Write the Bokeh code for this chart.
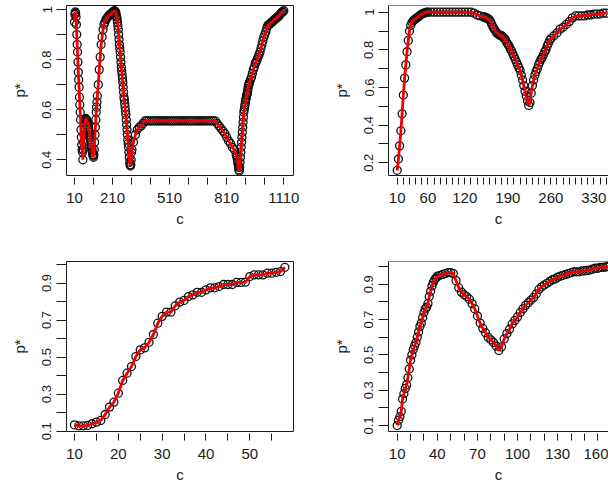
from bokeh.plotting import figure
from bokeh.layouts import column, row
from bokeh.models import Range1d, FixedTicker, Span
from bokeh.embed import file_html
from bokeh.resources import INLINE

# ---------------- data ----------------
# panel 1 (top-left): c sampled more finely where the curve is steep
c1 = (list(range(10, 131, 2)) + list(range(135, 226, 5)) + list(range(226, 313, 2))
      + list(range(320, 861, 10)) + list(range(862, 931, 2)) + list(range(935, 1111, 5)))
p1 = [0.95, 0.98, 0.99, 0.985, 0.97, 0.94, 0.90, 0.86, 0.83, 0.79,
      0.75, 0.72, 0.69, 0.65, 0.62, 0.59, 0.56, 0.52, 0.49, 0.46,
      0.44, 0.43, 0.40, 0.44, 0.47, 0.50, 0.52, 0.54, 0.55, 0.56,
      0.565, 0.56, 0.56, 0.555, 0.55, 0.55, 0.54, 0.53, 0.52, 0.51,
      0.50, 0.49, 0.48, 0.47, 0.46, 0.45, 0.44, 0.43, 0.42, 0.415,
      0.41, 0.42, 0.44, 0.47, 0.50, 0.53, 0.56, 0.59, 0.61, 0.63,
      0.655,
      0.70, 0.76, 0.81, 0.86, 0.89, 0.92, 0.94, 0.95, 0.96, 0.965,
      0.97, 0.975, 0.98, 0.98, 0.985, 0.99, 0.99, 0.995, 0.99,
      0.99, 0.985, 0.975, 0.97, 0.96, 0.95, 0.935, 0.92, 0.90, 0.88,
      0.86, 0.845, 0.83, 0.81, 0.79, 0.77, 0.755, 0.74, 0.725, 0.71,
      0.69, 0.67, 0.65, 0.64, 0.625, 0.61, 0.595, 0.58, 0.56, 0.54,
      0.52, 0.50, 0.48, 0.465, 0.45, 0.43, 0.41, 0.39, 0.38, 0.375,
      0.38, 0.40, 0.43, 0.44,
      0.47, 0.50, 0.52, 0.53, 0.535, 0.545, 0.555,
      0.555, 0.555, 0.555, 0.555, 0.555, 0.555, 0.555, 0.555, 0.555, 0.555,
      0.555, 0.555, 0.555, 0.555, 0.555, 0.555, 0.555, 0.555, 0.555, 0.555,
      0.555, 0.555, 0.555, 0.555, 0.555, 0.555, 0.555, 0.555, 0.555, 0.555,
      0.555, 0.555, 0.555, 0.555, 0.555, 0.555, 0.555,
      0.545, 0.535, 0.525, 0.515, 0.505, 0.49, 0.475, 0.465, 0.45, 0.44,
      0.42,
      0.415, 0.41, 0.40, 0.39, 0.38, 0.37, 0.36, 0.355, 0.37, 0.39,
      0.41, 0.43, 0.45, 0.47, 0.49, 0.51, 0.53, 0.55, 0.57, 0.59,
      0.60, 0.61, 0.62, 0.63, 0.64, 0.645, 0.655, 0.66, 0.665, 0.675,
      0.685, 0.695, 0.70, 0.705, 0.71,
      0.72, 0.73, 0.745, 0.76, 0.77, 0.785, 0.79, 0.80, 0.81, 0.82,
      0.83, 0.845, 0.86, 0.875, 0.89, 0.90, 0.91, 0.925, 0.935, 0.94,
      0.94, 0.945, 0.95, 0.95, 0.955, 0.96, 0.96, 0.965, 0.97, 0.97,
      0.975, 0.98, 0.985, 0.99, 0.99, 0.995]

# panel 2 (top-right)
c2 = (list(range(10, 59, 2)) + list(range(60, 146, 5)) + list(range(150, 261, 2))
      + list(range(265, 351, 5)))
p2 = [0.16, 0.22, 0.29, 0.37, 0.46, 0.56, 0.65, 0.72, 0.79, 0.85,
      0.90, 0.93, 0.945, 0.955, 0.96, 0.965, 0.97, 0.975, 0.98, 0.985,
      0.99, 0.993, 0.995, 0.998, 1.0,
      1.0, 1.0, 1.0, 1.0, 1.0, 1.0, 1.0, 1.0, 1.0, 1.0,
      1.0, 1.0, 1.0, 1.0, 1.0, 0.995, 0.985, 0.98,
      0.975, 0.975, 0.97, 0.97, 0.965, 0.96, 0.95, 0.935, 0.92, 0.91,
      0.90, 0.89, 0.885, 0.88, 0.875, 0.875, 0.87, 0.86, 0.855, 0.84,
      0.83, 0.82, 0.805, 0.795, 0.78, 0.765, 0.75, 0.735, 0.72, 0.705,
      0.69, 0.665, 0.64, 0.61, 0.58, 0.555, 0.53, 0.505, 0.52, 0.57,
      0.61, 0.64, 0.665, 0.685, 0.70, 0.72, 0.735, 0.75, 0.76, 0.775,
      0.79, 0.80, 0.82, 0.835, 0.85, 0.86,
      0.875, 0.89, 0.91, 0.92, 0.935, 0.95, 0.97, 0.98, 0.98, 0.98,
      0.98, 0.985, 0.985, 0.99, 0.99, 0.99, 0.995, 0.995]

# panel 3 (bottom-left)
c3 = list(range(10, 59))
p3 = [0.134, 0.129, 0.129, 0.131, 0.14, 0.149, 0.158, 0.19, 0.23, 0.257,
      0.305, 0.374, 0.413, 0.449, 0.503, 0.539, 0.55, 0.58, 0.622, 0.683,
      0.72, 0.743, 0.743, 0.777, 0.797, 0.806, 0.827, 0.836, 0.85, 0.85,
      0.863, 0.874, 0.874, 0.881, 0.892, 0.892, 0.892, 0.903, 0.903, 0.905,
      0.935, 0.944, 0.944, 0.944, 0.953, 0.953, 0.958, 0.962, 0.985]

# panel 4 (bottom-right)
c4 = list(range(10, 41)) + list(range(42, 169, 2))
p4 = [0.10, 0.13, 0.15, 0.18, 0.25, 0.28, 0.31, 0.33, 0.37, 0.42,
      0.47, 0.50, 0.53, 0.55, 0.57, 0.60, 0.63, 0.66, 0.68, 0.71,
      0.74, 0.76, 0.77, 0.79, 0.83, 0.86, 0.89, 0.91, 0.925, 0.935,
      0.945,
      0.95, 0.955, 0.96, 0.965, 0.965, 0.96, 0.92, 0.88, 0.855, 0.84,
      0.83, 0.815, 0.79, 0.76, 0.72, 0.68, 0.65, 0.625, 0.60, 0.585,
      0.57, 0.55, 0.525, 0.545, 0.59, 0.62, 0.645, 0.675, 0.695, 0.715,
      0.74, 0.76, 0.78, 0.795, 0.81, 0.825, 0.845, 0.87, 0.885, 0.895,
      0.905, 0.915, 0.925, 0.93, 0.94, 0.945, 0.95, 0.955, 0.96, 0.965,
      0.97, 0.97, 0.97, 0.975, 0.975, 0.978, 0.98, 0.985, 0.99, 0.99,
      0.995, 0.995, 0.998, 1.0]

# ticks and tick labels
x1_ticks = list(range(10, 1111, 100))
x1_labels = [10, 210, 510, 810, 1110]
x2_ticks = list(range(10, 351, 10))
x2_labels = [10, 60, 120, 190, 260, 330]
x3_ticks = list(range(10, 56, 5))
x3_labels = [10, 20, 30, 40, 50]
x4_ticks = list(range(10, 171, 10))
x4_labels = [10, 40, 70, 100, 130, 160]

y1_ticks = [0.4, 0.5, 0.6, 0.7, 0.8, 0.9, 1.0]
y1_labels = {0.4: "0.4", 0.6: "0.6", 0.8: "0.8", 1.0: "1"}
y2_ticks = [0.2, 0.3, 0.4, 0.5, 0.6, 0.7, 0.8, 0.9, 1.0]
y2_labels = {0.2: "0.2", 0.4: "0.4", 0.6: "0.6", 0.8: "0.8", 1.0: "1"}
y3_ticks = [0.1, 0.2, 0.3, 0.4, 0.5, 0.6, 0.7, 0.8, 0.9, 1.0]
y3_labels = {0.1: "0.1", 0.3: "0.3", 0.5: "0.5", 0.7: "0.7", 0.9: "0.9"}
y4_ticks = y3_ticks
y4_labels = y3_labels

assert len(c1) == len(p1), (len(c1), len(p1))
assert len(c2) == len(p2), (len(c2), len(p2))
assert len(c3) == len(p3), (len(c3), len(p3))
assert len(c4) == len(p4), (len(c4), len(p4))

FONT = "Liberation Sans"
INK = "#1a1a1a"


def rng(frame_start, frame_len, ref_val, ref_px, px_per_unit, invert=False):
    """Range so that ref_val sits at page pixel ref_px for a frame starting at frame_start."""
    if not invert:
        lo = ref_val - (ref_px - frame_start) / px_per_unit
        return lo, lo + frame_len / px_per_unit
    hi = ref_val + (ref_px - frame_start) / px_per_unit
    return hi - frame_len / px_per_unit, hi


def panel(c, p, xr, yr, xt, xl, yt, yl, width, height, bl, br, bt, bb, open_right):
    f = figure(width=width, height=height, x_range=Range1d(*xr), y_range=Range1d(*yr),
               output_backend="svg", toolbar_location=None, tools="",
               min_border_left=bl, min_border_right=br, min_border_top=bt, min_border_bottom=bb,
               background_fill_color="white", border_fill_color="white")
    f.grid.visible = False
    f.scatter(c, p, marker="circle", size=8, fill_color=None, line_color="#111111", line_width=1.3)
    f.line(c, p, line_color="#ee0000", line_width=2.8)

    xa = f.xaxis[0]
    xa.ticker = FixedTicker(ticks=xt)
    xa.major_label_overrides = {t: (str(t) if t in xl else "") for t in xt}
    xa.minor_tick_line_color = None
    xa.major_tick_in = -2
    xa.major_tick_out = 9
    xa.major_tick_line_color = INK
    xa.major_label_text_font = FONT
    xa.major_label_text_font_size = "15px"
    xa.major_label_text_color = INK
    xa.major_label_standoff = 8
    xa.axis_label = "c"
    xa.axis_label_text_font = FONT
    xa.axis_label_text_font_size = "15px"
    xa.axis_label_text_font_style = "normal"
    xa.axis_label_text_color = INK
    xa.axis_label_standoff = 4

    ya = f.yaxis[0]
    ya.ticker = FixedTicker(ticks=yt)
    ya.major_label_overrides = {t: yl.get(t, "") for t in yt}
    ya.minor_tick_line_color = None
    ya.major_tick_in = 0
    ya.major_tick_out = 10
    ya.major_tick_line_color = INK
    ya.major_label_orientation = "vertical"
    ya.major_label_text_font = FONT
    ya.major_label_text_font_size = "13px"
    ya.major_label_text_color = INK
    ya.major_label_standoff = 5
    ya.axis_label = "p*"
    ya.axis_label_text_font = FONT
    ya.axis_label_text_font_size = "15px"
    ya.axis_label_text_font_style = "normal"
    ya.axis_label_text_color = INK
    ya.axis_label_standoff = 12

    if open_right:
        f.outline_line_color = None
        xa.axis_line_color = INK
        ya.axis_line_color = INK
        f.add_layout(Span(location=yr[1], dimension="width", line_color=INK, line_width=1))
    else:
        f.outline_line_color = INK
        f.outline_line_width = 1
        f.outline_line_alpha = 1
        xa.axis_line_color = None
        ya.axis_line_color = None
    return f


# layout geometry in page pixels (page has no margin)
ROW_H = 243
L_W, R_W = 308, 300
L_FRAME_LEFT, R_FRAME_LEFT = 66, 388
L_FRAME_W = 227
R_FRAME_W = L_W + R_W - R_FRAME_LEFT
FRAME_H = 170
ROW1_FRAME_TOP = 5
ROW2_FRAME_TOP = 261

bt1 = ROW1_FRAME_TOP
bb1 = ROW_H - bt1 - FRAME_H
bt2 = ROW2_FRAME_TOP - ROW_H
bb2 = ROW_H - bt2 - FRAME_H
brL = L_W - L_FRAME_LEFT - L_FRAME_W
blR = R_FRAME_LEFT - L_W

fa = panel(c1, p1,
           rng(L_FRAME_LEFT, L_FRAME_W, 10, 74.0, 0.19027),
           rng(ROW1_FRAME_TOP, FRAME_H, 1.0, 9.0, 250.5, invert=True),
           x1_ticks, x1_labels, y1_ticks, y1_labels,
           L_W, ROW_H, L_FRAME_LEFT, brL, bt1, bb1, False)
fb = panel(c2, p2,
           rng(R_FRAME_LEFT, R_FRAME_W, 10, 396.7, 0.6146),
           rng(ROW1_FRAME_TOP, FRAME_H, 1.0, 11.7, 188.25, invert=True),
           x2_ticks, x2_labels, y2_ticks, y2_labels,
           R_W, ROW_H, blR, 0, bt1, bb1, True)
fc = panel(c3, p3,
           rng(L_FRAME_LEFT, L_FRAME_W, 10, 74.0, 4.3825),
           rng(ROW2_FRAME_TOP, FRAME_H, 1.0, 264.0, 185.2, invert=True),
           x3_ticks, x3_labels, y3_ticks, y3_labels,
           L_W, ROW_H, L_FRAME_LEFT, brL, bt2, bb2, False)
fd = panel(c4, p4,
           rng(R_FRAME_LEFT, R_FRAME_W, 10, 396.7, 1.3373),
           rng(ROW2_FRAME_TOP, FRAME_H, 1.0, 266.0, 176.7, invert=True),
           x4_ticks, x4_labels, y4_ticks, y4_labels,
           R_W, ROW_H, blR, 0, bt2, bb2, True)

layout = column(row(fa, fb), row(fc, fd))

open("out.html", "w").write(file_html(layout, INLINE))
